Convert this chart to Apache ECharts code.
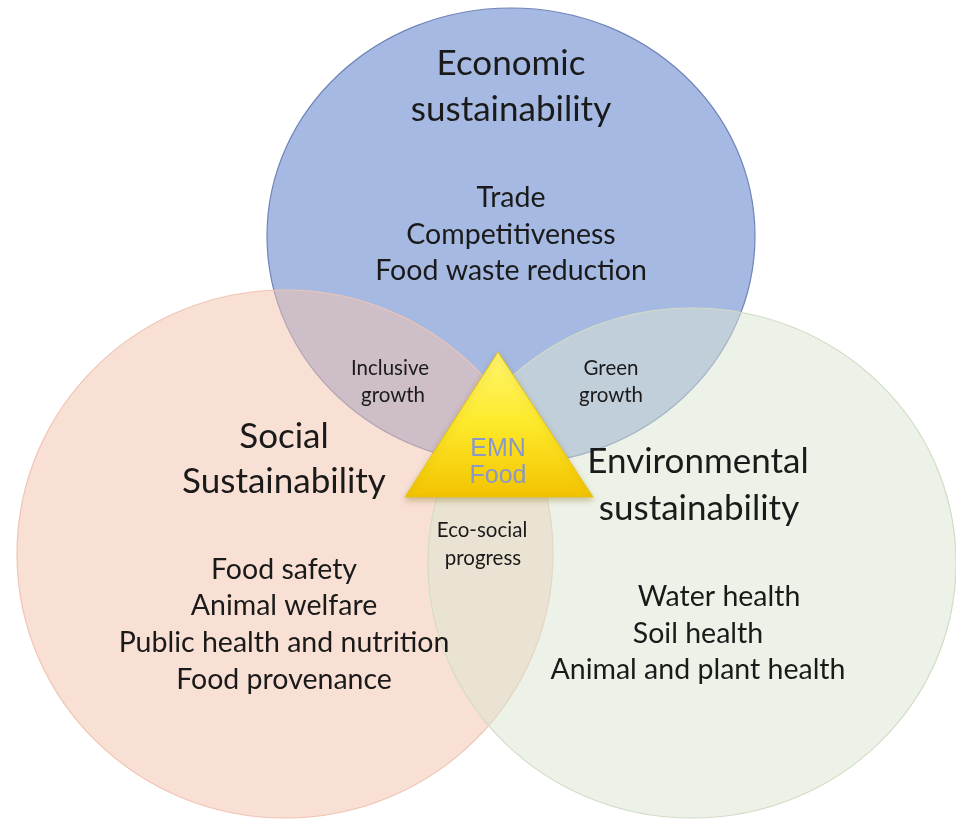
<!DOCTYPE html>
<html>
<head>
<meta charset="utf-8">
<script src="https://cdn.jsdelivr.net/npm/echarts@6/dist/echarts.min.js"></script>
<style>
  html, body { margin: 0; padding: 0; background: #fff; }
  #main { width: 956px; height: 819px; }
</style>
</head>
<body>
<div id="main"></div>
<script>
  // the three sets of the diagram (center and radii in page units)
  const setNames = ['Economic', 'Social', 'Environmental']
  const setCx = [511, 285, 692]
  const setCy = [236, 554, 563]
  const setRx = [244, 268, 264]
  const setRy = [228, 264, 255]

  // central triangle (EMN Food)
  const hubX = [498, 405, 593]
  const hubY = [352, 497, 497]

  const titleLines = [
    ['Economic', 'sustainability'],
    ['Social', 'Sustainability'],
    ['Environmental', 'sustainability']
  ]
  const itemLines = [
    ['Trade', 'Competitiveness', 'Food waste reduction'],
    ['Food safety', 'Animal welfare', 'Public health and nutrition', 'Food provenance'],
    ['Water health', 'Soil health', 'Animal and plant health']
  ]
  const lensLines = [
    ['Inclusive', 'growth'],
    ['Green', 'growth'],
    ['Eco-social', 'progress']
  ]
  const hubLines = ['EMN', 'Food']

  const fills = ['#a6b9e2', 'rgba(244,195,174,0.52)', 'rgba(219,229,209,0.5)']
  const strokes = ['#7084b9', '#efc5b3', '#d3dcc6']

  const font = 'Lato, "Open Sans", sans-serif'
  const ink = '#1a1a1a'

  const chart = echarts.init(document.getElementById('main'))

  const texts = []
  function addText(str, x, y, size, color, family) {
    texts.push({
      type: 'text',
      x: x,
      y: y,
      z: 100,
      style: {
        text: str,
        font: size + 'px ' + (family || font),
        fill: color || ink,
        align: 'center',
        verticalAlign: 'middle'
      }
    })
  }

  // set titles
  addText(titleLines[0][0], 511, 64, 35)
  addText(titleLines[0][1], 511, 110, 35)
  addText(titleLines[1][0], 284, 437, 35)
  addText(titleLines[1][1], 284, 482, 35)
  addText(titleLines[2][0], 698, 462, 35)
  addText(titleLines[2][1], 699, 509, 35)

  // items
  const ecoY = [198, 235, 271]
  itemLines[0].forEach((t, i) => addText(t, 511, ecoY[i], 28.5))
  const socY = [570, 606, 643, 680]
  itemLines[1].forEach((t, i) => addText(t, 284, socY[i], 28.5))
  const envX = [719, 698, 698]
  const envY = [597, 634, 670]
  itemLines[2].forEach((t, i) => addText(t, envX[i], envY[i], 28.5))

  // overlaps
  addText(lensLines[0][0], 390, 368, 20.5)
  addText(lensLines[0][1], 393, 395, 20.5)
  addText(lensLines[1][0], 611, 368, 20.5)
  addText(lensLines[1][1], 611, 395, 20.5)
  addText(lensLines[2][0], 482, 530, 20.5)
  addText(lensLines[2][1], 483, 558, 20.5)

  // hub
  addText(hubLines[0], 498, 449, 25, '#8a98c9', '"Liberation Sans", Arial, sans-serif')
  addText(hubLines[1], 498, 476, 25, '#8a98c9', '"Liberation Sans", Arial, sans-serif')

  chart.setOption({
    animation: false,
    grid: { left: 0, right: 0, top: 0, bottom: 0 },
    xAxis: { type: 'value', min: 0, max: 956, show: false },
    yAxis: { type: 'value', min: 0, max: 819, inverse: true, show: false },
    series: [
      {
        type: 'custom',
        name: 'sets',
        data: setNames.map((n, i) => [setCx[i], setCy[i], setRx[i], setRy[i]]),
        renderItem(params, api) {
          const c = api.coord([api.value(0), api.value(1)])
          const s = api.size([api.value(2), api.value(3)])
          return {
            type: 'ellipse',
            shape: { cx: c[0], cy: c[1], rx: s[0], ry: s[1] },
            style: {
              fill: fills[params.dataIndex],
              stroke: strokes[params.dataIndex],
              lineWidth: 1.2
            }
          }
        },
        z: 2
      },
      {
        type: 'custom',
        name: 'hub',
        data: [0],
        renderItem(params, api) {
          const pts = hubX.map((x, i) => api.coord([x, hubY[i]]))
          return {
            type: 'polygon',
            shape: { points: pts },
            style: {
              fill: new echarts.graphic.LinearGradient(0, 0, 0, 1, [
                { offset: 0, color: '#fff56e' },
                { offset: 0.5, color: '#fde92a' },
                { offset: 1, color: '#f3c300' }
              ]),
              stroke: '#e6c21a',
              lineWidth: 1,
              shadowBlur: 6,
              shadowOffsetY: 3,
              shadowColor: 'rgba(120,100,0,0.35)'
            }
          }
        },
        z: 3
      }
    ],
    graphic: { elements: texts }
  })
</script>
</body>
</html>
